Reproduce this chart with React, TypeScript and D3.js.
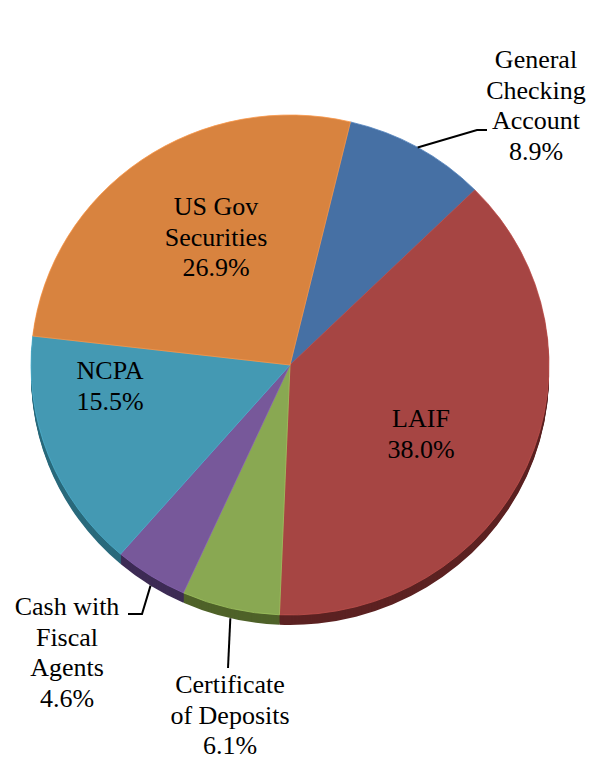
import React from "react";
import * as d3 from "d3";

// slice data, clockwise from the top
const categories = [
  "General Checking Account",
  "LAIF",
  "Certificate of Deposits",
  "Cash with Fiscal Agents",
  "NCPA",
  "US Gov Securities",
];
const shares = [8.9, 38.0, 6.1, 4.6, 15.5, 26.9];
const labelLines = [
  ["General", "Checking", "Account"],
  ["LAIF"],
  ["Certificate", "of Deposits"],
  ["Cash with", "Fiscal", "Agents"],
  ["NCPA"],
  ["US Gov", "Securities"],
];
const topColors = ["#4670a4", "#a64543", "#89a852", "#77589a", "#4499b3", "#d8833f"];
const sideColors = ["#2c4a70", "#5c2222", "#4f6229", "#3e2c55", "#2a6a7c", "#8a4d1d"];

// label layout: first baseline and leader elbow (null = no leader)
const labelPos: { x: number; y: number; elbow: [number, number][] | null }[] = [
  { x: 536, y: 68, elbow: [[477, 130], [487, 130]] },
  { x: 421, y: 427, elbow: null },
  { x: 230, y: 693, elbow: [[228, 668]] },
  { x: 67, y: 615, elbow: [[142, 614], [128, 614]] },
  { x: 110, y: 379, elbow: null },
  { x: 216, y: 215, elbow: null },
];

const W = 606;
const H = 762;
const cx = 290;
const cy = 365;
const rx = 259;
const ry = 250;
const depth = 10;
const startDeg = 13.5;
const lineH = 30.5;

type Slice = { name: string; value: number; i: number };

export default function App() {
  const start = (startDeg * Math.PI) / 180;
  const pie = d3
    .pie<Slice>()
    .value((d) => d.value)
    .sort(null)
    .startAngle(start)
    .endAngle(start + 2 * Math.PI);
  const arcs = pie(categories.map((c, i) => ({ name: c, value: shares[i], i })));
  const arc = d3.arc<d3.PieArcDatum<Slice>>().innerRadius(0).outerRadius(rx);
  const k = ry / rx;
  const layers = d3.range(depth, 0, -1);

  return (
    <svg width={W} height={H} style={{ position: "absolute", left: 0, top: 0 }}>
      {/* side of the 3D pie */}
      {layers.map((s) => (
        <g key={s} transform={`translate(${cx},${cy + s}) scale(1,${k})`}>
          {arcs.map((a) => (
            <path key={a.data.i} d={arc(a) || ""} fill={sideColors[a.data.i]} />
          ))}
        </g>
      ))}
      {/* top surface */}
      <g transform={`translate(${cx},${cy}) scale(1,${k})`}>
        {arcs.map((a) => (
          <path
            key={a.data.i}
            d={arc(a) || ""}
            fill={topColors[a.data.i]}
            stroke={d3.color(topColors[a.data.i])!.brighter(0.4).toString()}
            strokeWidth={0.8}
            vectorEffect="non-scaling-stroke"
          />
        ))}
      </g>
      {/* leader lines */}
      {arcs
        .filter((a) => labelPos[a.data.i].elbow)
        .map((a) => {
          const mid = (a.startAngle + a.endAngle) / 2;
          const px = cx + rx * Math.sin(mid);
          const py = cy - ry * Math.cos(mid) + (Math.cos(mid) < 0 ? depth : 0);
          const pts: [number, number][] = [[px, py], ...(labelPos[a.data.i].elbow || [])];
          return (
            <path key={a.data.i} d={d3.line()(pts) || ""} fill="none" stroke="#000" strokeWidth={2} />
          );
        })}
      {/* labels, one text per line */}
      {arcs.map((a) =>
        [...labelLines[a.data.i], `${a.data.value.toFixed(1)}%`].map((ln, j) => (
          <text
            key={`${a.data.i}-${j}`}
            x={labelPos[a.data.i].x}
            y={labelPos[a.data.i].y + j * lineH}
            textAnchor="middle"
            fontSize={26}
            style={{ fontFamily: "Times New Roman" }}
          >
            {ln}
          </text>
        ))
      )}
    </svg>
  );
}
